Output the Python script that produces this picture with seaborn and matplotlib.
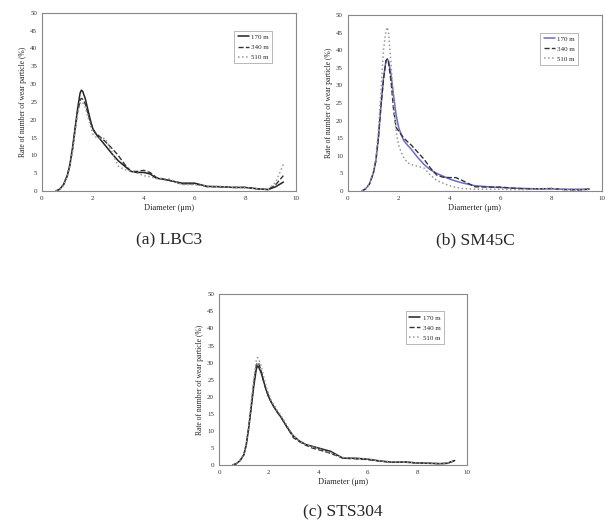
import numpy as np
import pandas as pd
import matplotlib.pyplot as plt
import seaborn as sns

# common diameter grid (um)
diam = [0.55, 0.7, 0.85, 1.0, 1.1, 1.2, 1.3, 1.4, 1.5, 1.55, 1.6, 1.7, 1.8, 1.9, 2.0, 2.1, 2.2, 2.35, 2.5,
        2.75, 3.0, 3.25, 3.5, 3.75, 4.0, 4.25, 4.5, 5.0, 5.5, 6.0, 6.5, 7.0, 7.5, 8.0, 8.5, 8.9, 9.2, 9.5]

# (a) LBC3
lbc_170 = [0, 0.5, 1.8, 4.5, 7.5, 12, 17.5, 23, 27.5, 28.3, 28, 26, 23, 20, 17.5, 16.3, 15.3, 14, 12.7,
           10.5, 8.5, 7, 5.5, 5.2, 5.2, 4.8, 3.6, 3.0, 2.2, 2.2, 1.3, 1.2, 1.0, 1.0, 0.6, 0.4, 1.2, 2.5]
lbc_340 = [0, 0.5, 1.8, 4.3, 7.2, 11.5, 17, 22, 25.5, 26, 25.8, 24.5, 22, 19.5, 17.3, 16.3, 15.7, 14.8, 13.8,
           12, 10, 7.5, 5.5, 5.5, 5.8, 5.2, 3.8, 3.0, 2.0, 2.0, 1.2, 1.2, 1.0, 1.0, 0.6, 0.4, 1.8, 4.3]
lbc_510 = [0, 0.4, 1.6, 4, 7, 11, 16.5, 21.5, 24.5, 25, 24.8, 23.5, 21, 18.5, 16, 15.2, 15, 14.8, 14.7,
           11, 7, 6, 5.5, 5.0, 4.3, 4.0, 3.5, 3.4, 1.8, 1.8, 1.3, 1.3, 1.0, 0.9, 0.6, 0.4, 2.5, 7.5]

# (b) SM45C
sm_170 = [0, 0.6, 2, 5, 8.5, 15, 24, 32, 37, 37.5, 37, 33, 27, 21.5, 18, 16, 14.3, 13, 11.8,
          9.5, 7.5, 6, 5, 4.2, 3.4, 2.8, 2.3, 1.5, 1.2, 1.0, 0.8, 0.7, 0.6, 0.6, 0.5, 0.5, 0.5, 0.6]
sm_340 = [0, 0.6, 2, 5, 8.5, 15, 24, 31.5, 37, 37.5, 36.5, 31, 23, 18, 17, 16, 15, 14, 13,
          11, 9, 6.5, 4.5, 3.9, 3.8, 3.8, 3.0, 1.2, 1.1, 1.1, 0.8, 0.6, 0.6, 0.7, 0.4, 0.3, 0.3, 0.5]
sm_510 = [0, 0.6, 2, 5.5, 9.5, 17, 28, 40, 45.5, 46.5, 45, 36, 25, 17, 13, 11, 9.5, 8, 7.5,
          7, 6.5, 4.5, 3, 2.2, 1.5, 1.0, 0.7, 0.5, 0.5, 0.5, 0.4, 0.4, 0.6, 0.8, 0.4, 0.3, 0.3, 0.5]

# (c) STS304
sts_170 = [0, 0.4, 1.3, 3, 6, 11, 17, 23, 28, 29, 28.7, 27, 24.5, 22, 20, 18.5, 17.2, 15.5, 14,
           11, 8.5, 7, 6, 5.5, 5, 4.5, 4.0, 2.0, 2.0, 1.7, 1.2, 0.8, 0.9, 0.6, 0.5, 0.4, 0.5, 1.3]
sts_340 = [0, 0.4, 1.3, 3, 6, 11, 17.5, 24, 29, 30, 29.7, 27.5, 24.5, 22, 20, 18.5, 17.2, 15.5, 14,
           11, 8, 6.8, 5.8, 5.0, 4.5, 4.0, 3.4, 2.0, 1.8, 1.6, 1.1, 0.8, 0.8, 0.6, 0.5, 0.4, 0.5, 1.3]
sts_510 = [0, 0.4, 1.4, 3.3, 6.5, 12, 18.5, 25, 30.5, 31.5, 31, 29, 26, 23, 21, 19, 17.8, 16, 14.5,
           11.5, 8.5, 7, 6, 5.3, 4.8, 4.2, 3.6, 2.2, 2.0, 1.8, 1.2, 0.9, 0.9, 0.6, 0.5, 0.4, 0.6, 1.3]

distances = ['170 m', '340 m', '510 m']
captions = ['(a) LBC3', '(b) SM45C', '(c) STS304']
xlabels = ['Diameter (\u03bcm)', 'Diamerter (\u03bcm)', 'Diameter (\u03bcm)']
ylabel = 'Rate of number of wear particle (%)'

sns.set_style('white')
plt.rcParams['font.family'] = ['Liberation Serif', 'DejaVu Serif']

fig = plt.figure(figsize=(6.05, 5.27), dpi=100)
boxes = [[0.0694, 0.6376, 0.42, 0.338],
         [0.575, 0.6376, 0.42, 0.334],
         [0.362, 0.1176, 0.41, 0.324]]
panels = [(lbc_170, lbc_340, lbc_510), (sm_170, sm_340, sm_510), (sts_170, sts_340, sts_510)]
caption_y = [240, 240, 512]

for i, (box, series) in enumerate(zip(boxes, panels)):
    ax = fig.add_axes(box)
    solid_col = '#6b6bd0' if i == 1 else '#222222'
    styles = [('-', solid_col, 1.1), ('--', '#333333', 1.0), (':', '#999999', 1.1)]
    for vals, name, (ls, col, lw) in zip(series, distances, styles):
        df = pd.DataFrame({'d': diam, 'r': vals})
        sns.lineplot(data=df, x='d', y='r', ax=ax, color=col, linestyle=ls,
                     linewidth=lw, label=name)
    ax.set_xlim(0, 10)
    ax.set_ylim(0, 50)
    ax.set_xticks(range(0, 11, 2))
    ax.set_yticks(range(0, 51, 5))
    ax.tick_params(labelsize=5, length=1.5, width=0.5, pad=2, colors='#333333')
    ax.set_xlabel(xlabels[i], fontsize=6, labelpad=2)
    ax.set_ylabel(ylabel, fontsize=5.5, labelpad=2)
    for s in ax.spines.values():
        s.set_color('#888888')
        s.set_linewidth(0.8)
    leg = ax.legend(loc='upper right', bbox_to_anchor=(0.92, 0.92), fontsize=5,
                    frameon=True, fancybox=False, handlelength=1.6, handletextpad=0.3,
                    borderpad=0.5, labelspacing=0.6)
    leg.get_frame().set_edgecolor('#999999')
    leg.get_frame().set_linewidth(0.6)
    cx = box[0] + box[2] / 2
    fig.text(cx, 1 - caption_y[i] / 527, captions[i], ha='center', va='center', fontsize=12.5)

fig.savefig('out.png', dpi=100)
